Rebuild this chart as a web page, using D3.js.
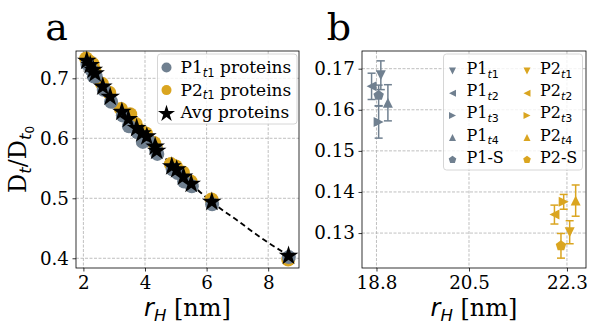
<!DOCTYPE html>
<html>
<head>
<meta charset="utf-8">
<script src="https://cdn.jsdelivr.net/npm/d3@7"></script>
<style>
  body { margin: 0; background: #fff; }
  svg { display: block; }
</style>
</head>
<body>
<svg width="595" height="330"></svg>
<script>
const width = 595, height = 330;
const SERIF = "'DejaVu Serif', 'Liberation Serif', serif";
const SANS = "'DejaVu Sans', sans-serif";

// panel a: proteins
const avgR = [2.11, 2.22, 2.32, 2.38, 2.63, 2.87, 3.25, 3.46, 3.73, 3.90, 4.06, 4.33, 4.38, 4.87, 5.03, 5.25, 5.50, 6.17, 8.66];
const avgD = [0.729, 0.722, 0.714, 0.708, 0.686, 0.669, 0.644, 0.632, 0.617, 0.608, 0.603, 0.586, 0.579, 0.553, 0.548, 0.536, 0.524, 0.494, 0.404];
const p1R = [2.13, 2.25, 2.34, 2.40, 2.66, 2.90, 3.28, 3.48, 3.76, 3.93, 4.09, 4.36, 4.40, 4.90, 5.06, 5.27, 5.52, 6.18, 8.67];
const p1D = [0.724, 0.715, 0.703, 0.703, 0.681, 0.661, 0.638, 0.620, 0.610, 0.594, 0.598, 0.580, 0.574, 0.548, 0.542, 0.528, 0.520, 0.490, 0.402];
const p2R = [2.09, 2.19, 2.30, 2.36, 2.60, 2.84, 3.22, 3.52, 3.70, 3.87, 4.03, 4.30, 4.36, 4.84, 5.00, 5.23, 5.48, 6.16, 8.65];
const p2D = [0.733, 0.728, 0.724, 0.713, 0.691, 0.676, 0.649, 0.640, 0.624, 0.612, 0.608, 0.592, 0.584, 0.557, 0.553, 0.543, 0.528, 0.498, 0.398];
const fitR = [2.1, 2.5, 3.0, 3.5, 4.0, 4.5, 5.0, 5.5, 6.0, 6.5, 7.0, 7.5, 8.0, 8.7];
const fitD = [0.729, 0.697, 0.660, 0.630, 0.603, 0.575, 0.549, 0.524, 0.501, 0.481, 0.463, 0.444, 0.426, 0.404];
const aTicksX = [2, 4, 6, 8];
const aTicksY = [0.4, 0.5, 0.6, 0.7];

// panel b: P1 / P2 per time point
const bNames = ["t1", "t2", "t3", "t4", "S"];
const bShapes = ["down", "left", "right", "up", "pent"];
const p1bR = [18.88, 18.71, 18.84, 19.01, 18.84];
const p1bD = [0.1684, 0.1657, 0.1570, 0.1617, 0.1635];
const p1bErr = [0.0035, 0.0032, 0.0039, 0.0044, 0.0025];
const p2bR = [22.35, 22.07, 22.24, 22.46, 22.19];
const p2bD = [0.1302, 0.1345, 0.1376, 0.1379, 0.1269];
const p2bErr = [0.0028, 0.0023, 0.0018, 0.0038, 0.0030];
const bTicksX = [18.8, 20.5, 22.3];
const bTicksY = [0.13, 0.14, 0.15, 0.16, 0.17];

const gray = "#708090", gold = "#DAA520";

const svg = d3.select("svg");

const aBox = {left: 76, right: 299, top: 51, bottom: 268};
const bBox = {left: 362, right: 586, top: 51, bottom: 268};

const ax = d3.scaleLinear().domain([1.76, 9.0]).range([aBox.left, aBox.right]);
const ay = d3.scaleLinear().domain([0.3838, 0.7455]).range([aBox.bottom, aBox.top]);
const bx = d3.scaleLinear().domain([18.534, 22.65]).range([bBox.left, bBox.right]);
const by = d3.scaleLinear().domain([0.1215, 0.1743]).range([bBox.bottom, bBox.top]);

function serif(sel, size) {
    return sel.style("font-family", SERIF).style("font-size", size + "px").style("fill", "#000");
}
function sansSub(tspan, size, italic) {
    return tspan.style("font-family", SANS).style("font-size", size + "px")
        .style("font-style", italic ? "italic" : "normal");
}

function drawFrame(box, x, y, tx, ty, fmtX, fmtY) {
    const g = svg.append("g");
    // grid
    g.selectAll(".gx").data(tx).join("line")
        .attr("x1", d => x(d)).attr("x2", d => x(d))
        .attr("y1", box.top).attr("y2", box.bottom)
        .attr("stroke", "#b0b0b0").attr("stroke-width", 0.8).attr("stroke-dasharray", "3,1.5");
    g.selectAll(".gy").data(ty).join("line")
        .attr("x1", box.left).attr("x2", box.right)
        .attr("y1", d => y(d)).attr("y2", d => y(d))
        .attr("stroke", "#b0b0b0").attr("stroke-width", 0.8).attr("stroke-dasharray", "3,1.5");
    // axes
    const xa = g.append("g")
        .attr("transform", `translate(0,${box.bottom})`)
        .call(d3.axisBottom(x).tickValues(tx).tickFormat(fmtX).tickSize(3.5).tickPadding(5));
    const ya = g.append("g")
        .attr("transform", `translate(${box.left},0)`)
        .call(d3.axisLeft(y).tickValues(ty).tickFormat(fmtY).tickSize(3.5).tickPadding(3.5));
    [xa, ya].forEach(a => {
        a.select(".domain").remove();
        a.selectAll("line").attr("stroke", "#000").attr("stroke-width", 0.8);
        serif(a.selectAll("text"), 18.3);
    });
    return g;
}

function drawBorder(box) {
    svg.append("rect")
        .attr("x", box.left).attr("y", box.top)
        .attr("width", box.right - box.left).attr("height", box.bottom - box.top)
        .attr("fill", "none").attr("stroke", "#000").attr("stroke-width", 0.8);
}

// ---------- Panel a
drawFrame(aBox, ax, ay, aTicksX, aTicksY, d3.format("d"), d3.format(".1f"));

const ga = svg.append("g");
ga.append("path")
    .datum(fitR.map((r, i) => [r, fitD[i]]))
    .attr("d", d3.line().x(d => ax(d[0])).y(d => ay(d[1])).curve(d3.curveMonotoneX))
    .attr("fill", "none").attr("stroke", "#000").attr("stroke-width", 1.8)
    .attr("stroke-dasharray", "5.5,3.5");

ga.selectAll(".p2").data(p2R.map((r, i) => [r, p2D[i]])).join("circle")
    .attr("cx", d => ax(d[0])).attr("cy", d => ay(d[1])).attr("r", 7)
    .attr("fill", gold);
ga.selectAll(".p1").data(p1R.map((r, i) => [r, p1D[i]])).join("circle")
    .attr("cx", d => ax(d[0])).attr("cy", d => ay(d[1])).attr("r", 7)
    .attr("fill", gray);

const star = d3.symbol().type(d3.symbolStar).size(120);
ga.selectAll(".avg").data(avgR.map((r, i) => [r, avgD[i]])).join("path")
    .attr("d", star)
    .attr("transform", d => `translate(${ax(d[0])},${ay(d[1])})`)
    .attr("fill", "#000");

drawBorder(aBox);

// legend a
const la = svg.append("g");
la.append("rect")
    .attr("x", 157.5).attr("y", 54).attr("width", 139.5).attr("height", 70).attr("rx", 3)
    .attr("fill", "#fff").attr("fill-opacity", 0.8).attr("stroke", "#cccccc").attr("stroke-width", 0.8);
const laItems = [
    {kind: "circle", color: gray, base: "P1", sub: "t1", rest: " proteins"},
    {kind: "circle", color: gold, base: "P2", sub: "t1", rest: " proteins"},
    {kind: "star", color: "#000", base: "Avg proteins", sub: null, rest: ""}
];
laItems.forEach((it, i) => {
    const yy = 67.5 + i * 22.6;
    if (it.kind === "circle") {
        la.append("circle").attr("cx", 166.5).attr("cy", yy).attr("r", 5).attr("fill", it.color);
    } else {
        la.append("path").attr("d", d3.symbol().type(d3.symbolStar).size(90))
            .attr("transform", `translate(166.5,${yy + 1})`).attr("fill", it.color);
    }
    const t = serif(la.append("text").attr("x", 180.5).attr("y", yy + 5.5), 17);
    t.append("tspan").text(it.base);
    if (it.sub) {
        sansSub(t.append("tspan").attr("dy", 3.5), 11.5, true).text("t");
        sansSub(t.append("tspan"), 11.5, false).text("1");
        t.append("tspan").attr("dy", -3.5).text(it.rest);
    }
});

// ---------- Panel b
drawFrame(bBox, bx, by, bTicksX, bTicksY, d3.format(".1f"), d3.format(".2f"));

function markerPath(shape, s) {
    if (shape === "pent") {
        const pts = d3.range(5).map(k => {
            const a = -Math.PI / 2 + k * 2 * Math.PI / 5;
            return [s * Math.cos(a), s * Math.sin(a)];
        });
        return "M" + pts.join("L") + "Z";
    }
    const tri = [[0, -s], [-s, s], [s, s]];
    const rot = {up: 0, down: 180, left: -90, right: 90}[shape] * Math.PI / 180;
    const pts = tri.map(([px, py]) => [px * Math.cos(rot) - py * Math.sin(rot), px * Math.sin(rot) + py * Math.cos(rot)]);
    return "M" + pts.join("L") + "Z";
}

const gb = svg.append("g");
function drawSeries(R, D, E, color) {
    bNames.forEach((n, i) => {
        const cx = bx(R[i]), y0 = by(D[i] - E[i]), y1 = by(D[i] + E[i]);
        gb.append("line").attr("x1", cx).attr("x2", cx).attr("y1", y0).attr("y2", y1)
            .attr("stroke", color).attr("stroke-width", 1.5);
        [y0, y1].forEach(yc => gb.append("line")
            .attr("x1", cx - 4).attr("x2", cx + 4).attr("y1", yc).attr("y2", yc)
            .attr("stroke", color).attr("stroke-width", 1.5));
        gb.append("path").attr("d", markerPath(bShapes[i], bShapes[i] === "pent" ? 5.5 : 5))
            .attr("transform", `translate(${cx},${by(D[i])})`).attr("fill", color);
    });
}
drawSeries(p1bR, p1bD, p1bErr, gray);
drawSeries(p2bR, p2bD, p2bErr, gold);

drawBorder(bBox);

// legend b
const lb = svg.append("g");
lb.append("rect")
    .attr("x", 443.5).attr("y", 54).attr("width", 139).attr("height", 116).attr("rx", 3)
    .attr("fill", "#fff").attr("fill-opacity", 0.8).attr("stroke", "#cccccc").attr("stroke-width", 0.8);
[["P1", gray, 452.5, 466.5], ["P2", gold, 527, 540]].forEach(([lab, color, mx, tx]) => {
    bNames.forEach((n, i) => {
        const yy = 69 + i * 22.2;
        lb.append("path").attr("d", markerPath(bShapes[i], bShapes[i] === "pent" ? 4 : 3.5))
            .attr("transform", `translate(${mx},${yy + 2})`).attr("fill", color);
        const t = serif(lb.append("text").attr("x", tx).attr("y", yy + 5), 16);
        if (n === "S") {
            t.text(lab + "-S");
        } else {
            t.append("tspan").text(lab);
            sansSub(t.append("tspan").attr("dy", 3.5), 11, true).text("t");
            sansSub(t.append("tspan"), 11, false).text(n.slice(1));
        }
    });
});

// ---------- labels
serif(svg.append("text").attr("x", 56.5).attr("y", 40).attr("text-anchor", "middle"), 38).text("a");
serif(svg.append("text").attr("x", 339).attr("y", 40).attr("text-anchor", "middle"), 38).text("b");

function xLabel(cx) {
    const t = serif(svg.append("text").attr("x", cx).attr("y", 316).attr("text-anchor", "middle"), 24);
    sansSub(t.append("tspan"), 24, true).text("r");
    sansSub(t.append("tspan").attr("dy", 5), 16.5, true).text("H");
    t.append("tspan").attr("dy", -5).text(" [nm]");
}
xLabel(187.5);
xLabel(474);

const yl = serif(svg.append("text").attr("transform", "translate(26,159.5) rotate(-90)")
    .attr("text-anchor", "middle"), 24);
yl.append("tspan").text("D");
sansSub(yl.append("tspan").attr("dy", 4.5), 16.5, true).text("t");
yl.append("tspan").attr("dy", -4.5).text("/D");
sansSub(yl.append("tspan").attr("dy", 4.5), 16.5, true).text("t");
sansSub(yl.append("tspan").attr("dy", 3), 12, false).text("0");
</script>
</body>
</html>
